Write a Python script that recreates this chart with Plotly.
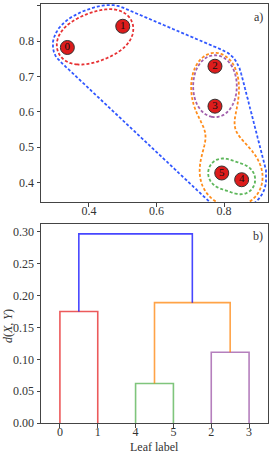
import numpy as np
import plotly.graph_objects as go

# ---------------- data ----------------
point_labels = ["0", "1", "2", "3", "4", "5"]
point_x = [0.336, 0.500, 0.773, 0.773, 0.852, 0.793]
point_y = [0.782, 0.842, 0.729, 0.616, 0.408, 0.427]

# dendrogram (leaf order and merges; node ids 6.. are merges in order)
leaf_order = [0, 1, 4, 5, 2, 3]
merge_left = [0, 4, 2, 7, 6]
merge_right = [1, 5, 3, 8, 9]
merge_height = [0.175, 0.062, 0.111, 0.189, 0.297]

x_ticks_top = [0.4, 0.6, 0.8]
y_ticks_top = [0.4, 0.5, 0.6, 0.7, 0.8, 0.9]
y_ticks_bot = [0.00, 0.05, 0.10, 0.15, 0.20, 0.25, 0.30]

# cluster outlines drawn around the points (members; index 4 encloses outlines 0 and 3)
cluster_members = [[0, 1], [2, 3], [4, 5], [2, 3, 4, 5], [0, 1, 2, 3, 4, 5]]
cluster_children = [None, None, None, None, [0, 3]]

# ---------------- styles ----------------
RED, BLUE, ORANGE, GREEN, PURPLE = "#e41a1c", "#0000ff", "#ff7f00", "#4daf4a", "#984ea3"
merge_color = [RED, GREEN, PURPLE, ORANGE, BLUE]
cluster_color = [RED, PURPLE, GREEN, ORANGE, "#1a44ff"]
cluster_sigma = [0.10, 0.08, 0.03, 0.08, None]
cluster_margin = [0.03, 0.031, 0.04, 0.038, 0.012]


def rgba(h, a):
    h = h.lstrip("#")
    r, g, b = int(h[0:2], 16), int(h[2:4], 16), int(h[4:6], 16)
    return f"rgba({r},{g},{b},{a})"


FONT = "Liberation Serif"
AX = "#444444"

fig = go.Figure()

# ---------------- panel a: cluster outlines ----------------
gx = np.linspace(0.15, 1.05, 360)
gy = np.linspace(0.25, 1.0, 300)
GX, GY = np.meshgrid(gx, gy)
P = np.array([point_x, point_y]).T


def convex_hull(pts):
    pts = sorted(set(map(tuple, pts)))
    def cross(o, a, b):
        return (a[0] - o[0]) * (b[1] - o[1]) - (a[1] - o[1]) * (b[0] - o[0])
    lower, upper = [], []
    for p in pts:
        while len(lower) >= 2 and cross(lower[-2], lower[-1], p) <= 0:
            lower.pop()
        lower.append(p)
    for p in reversed(pts):
        while len(upper) >= 2 and cross(upper[-2], upper[-1], p) <= 0:
            upper.pop()
        upper.append(p)
    return np.array(lower[:-1] + upper[:-1])


def hull_distance(X, Y, hull):
    n = len(hull)
    dmin = np.full(X.shape, np.inf)
    inside = np.ones(X.shape, dtype=bool)
    for i in range(n):
        a, b = hull[i], hull[(i + 1) % n]
        ab = b - a
        t = ((X - a[0]) * ab[0] + (Y - a[1]) * ab[1]) / (ab @ ab)
        t = np.clip(t, 0, 1)
        dx = X - (a[0] + t * ab[0])
        dy = Y - (a[1] + t * ab[1])
        dmin = np.minimum(dmin, np.hypot(dx, dy))
        cr = ab[0] * (Y - a[1]) - ab[1] * (X - a[0])
        inside &= cr >= 0
    return np.where(inside, -dmin, dmin)


def gauss_field(x, y, pts, sig):
    z = np.zeros_like(np.asarray(x, dtype=float))
    for px, py in pts:
        z = z + np.exp(-((x - px) ** 2 + (y - py) ** 2) / (2 * sig ** 2))
    return z


masks = {}
for k, (mem, col, sig, m, ch) in enumerate(zip(cluster_members, cluster_color, cluster_sigma,
                                             cluster_margin, cluster_children)):
    pts = P[mem]
    if ch is None:
        c = pts.mean(axis=0)
        d = np.linalg.norm(pts - c, axis=1)
        far = pts[np.argmax(d)]
        u = (far - c) / max(np.linalg.norm(far - c), 1e-9)
        q = far + m * u
        level = float(gauss_field(np.array(q[0]), np.array(q[1]), pts, sig))
        Z = gauss_field(GX, GY, pts, sig)
        masks[k] = Z >= level
    else:
        union = np.zeros(GX.shape, dtype=bool)
        for j in ch:
            union |= masks[j]
        inner = np.column_stack([GX[union], GY[union]])
        hull = convex_hull(inner)
        Z = -hull_distance(GX, GY, hull)
        level = -m
        masks[k] = Z >= level
    fig.add_trace(go.Contour(
        x=gx, y=gy, z=Z, xaxis="x", yaxis="y",
        autocontour=False,
        contours=dict(start=level, end=level, size=1.0, coloring="none"),
        line=dict(color=rgba(col, 0.9), width=1.8, dash="3px,2px", smoothing=1.0),
        showscale=False, hoverinfo="skip", showlegend=False,
    ))

fig.add_trace(go.Scatter(
    x=point_x, y=point_y, text=point_labels, mode="markers+text",
    xaxis="x", yaxis="y",
    marker=dict(size=14, color="#dd1c1c", line=dict(color="#333333", width=1)),
    textposition="middle center",
    textfont=dict(family=FONT, size=11, color="#111111"),
    hoverinfo="skip", showlegend=False, cliponaxis=False,
))

# ---------------- panel b: dendrogram ----------------
node_x = {leaf: 5 + 10 * i for i, leaf in enumerate(leaf_order)}
node_h = {leaf: 0.0 for leaf in leaf_order}
for k, (a, b, h, col) in enumerate(zip(merge_left, merge_right, merge_height, merge_color)):
    nid = len(point_labels) + k
    xa, xb = node_x[a], node_x[b]
    fig.add_trace(go.Scatter(
        x=[xa, xa, xb, xb], y=[node_h[a], h, h, node_h[b]],
        mode="lines", xaxis="x2", yaxis="y2",
        line=dict(color=rgba(col, 0.72), width=1.6),
        hoverinfo="skip", showlegend=False,
    ))
    node_x[nid] = (xa + xb) / 2
    node_h[nid] = h

axis_common = dict(
    showline=True, mirror=True, linecolor=AX, linewidth=1,
    ticks="outside", ticklen=3.5, tickwidth=1, tickcolor=AX,
    showgrid=False, zeroline=False,
    tickfont=dict(family=FONT, size=12, color="#333333"),
)

L, T, W, H = 41, 4, 227, 419


def px2paper(xp, yp):
    return (xp - L) / W, (T + H - yp) / H


ann_font = dict(family=FONT, size=12, color="#333333")
ax_a, ay_a = px2paper(265, 16.7)
ax_b, ay_b = px2paper(265, 235.7)
lx, ly = px2paper(154.5, 447)
dx_, dy_ = px2paper(8, 326)

fig.update_layout(
    width=269, height=451,
    margin=dict(l=L, r=269 - L - W, t=T, b=451 - T - H, autoexpand=False),
    paper_bgcolor="white", plot_bgcolor="white",
    showlegend=False,
    xaxis=dict(domain=[0, 1], range=[0.258, 0.93], anchor="y", ticklabelstandoff=-6,
               tickvals=x_ticks_top, ticktext=[f"{v:.1f}" for v in x_ticks_top], **axis_common),
    yaxis=dict(domain=[(423 - 202) / H, 1], range=[0.345, 0.905], anchor="x",
               tickvals=y_ticks_top, ticktext=[f"{v:.1f}" for v in y_ticks_top], **axis_common),
    xaxis2=dict(domain=[0, 1], range=[0, 10 * len(leaf_order)], anchor="y2", ticklabelstandoff=-6,
                tickvals=[5 + 10 * i for i in range(len(leaf_order))],
                ticktext=[point_labels[i] for i in leaf_order], **axis_common),
    yaxis2=dict(domain=[0, (423 - 224) / H], range=[0, 0.3125], anchor="x2",
                tickvals=y_ticks_bot, ticktext=[f"{v:.2f}" for v in y_ticks_bot], **axis_common),
    annotations=[
        dict(text="a)", x=ax_a, y=ay_a, xanchor="right", yanchor="middle"),
        dict(text="b)", x=ax_b, y=ay_b, xanchor="right", yanchor="middle"),
        dict(text="Leaf label", x=lx, y=ly, xanchor="center", yanchor="middle"),
        dict(text="<i>d</i>(<i>X</i>, <i>Y</i>)", x=dx_, y=dy_, textangle=-90,
             xanchor="center", yanchor="middle"),
    ],
)
fig.update_annotations(xref="paper", yref="paper", showarrow=False, font=ann_font)

fig.write_html(
    "out.html",
    config={"displayModeBar": False},
    post_script="document.body.style.margin='0';document.body.style.overflow='hidden';",
)
